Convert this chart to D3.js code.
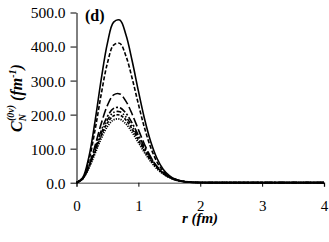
<!DOCTYPE html>
<html>
<head>
<meta charset="utf-8">
<script src="https://cdn.jsdelivr.net/npm/d3@7"></script>
<style>
  body { margin: 0; background: #fff; }
</style>
</head>
<body>
<svg id="chart"></svg>
<script>
// r values (fm)
var rValues = [0, 0.1, 0.2, 0.3, 0.4, 0.5, 0.6, 0.7, 0.8, 0.9, 1.0, 1.1, 1.2, 1.3, 1.4, 1.5, 1.6, 1.7, 1.8, 1.9, 2.0, 2.5, 3.0, 3.5, 4.0];

// one series per line style
var solid = [0, 14.6, 75.8, 181.0, 304.0, 410.1, 471.8, 477.7, 433.7, 357.5, 269.6, 187.3, 120.4, 71.8, 39.8, 20.6, 9.9, 4.5, 1.9, 0.8, 0.5, 0.3, 0.2, 0.1, 0.1];
var dashed = [0, 12.5, 65.0, 155.1, 260.4, 351.4, 404.3, 409.3, 371.6, 306.3, 231.0, 160.5, 103.1, 61.5, 34.1, 17.6, 8.5, 3.8, 1.6, 0.6, 0.4, 0.3, 0.2, 0.1, 0.1];
var longDash = [0, 11.3, 49.8, 108.9, 173.7, 227.4, 258.0, 260.9, 239.1, 201.0, 155.9, 112.3, 75.5, 47.4, 27.9, 15.4, 8.0, 3.9, 1.8, 0.8, 0.4, 0.3, 0.2, 0.1, 0.1];
var dashDot = [0, 13.5, 50.5, 101.4, 153.5, 195.1, 218.2, 220.4, 204.0, 174.8, 139.5, 104.2, 73.2, 48.4, 30.2, 17.8, 9.9, 5.3, 2.6, 1.3, 0.6, 0.3, 0.2, 0.1, 0.1];
var dashDotDot = [0, 12.8, 47.8, 95.9, 145.2, 184.5, 206.5, 208.5, 193.0, 165.3, 131.9, 98.6, 69.2, 45.8, 28.6, 16.8, 9.4, 5.0, 2.5, 1.2, 0.5, 0.3, 0.2, 0.1, 0.1];
var shortDash = [0, 12.2, 45.5, 91.4, 138.3, 175.8, 196.6, 198.6, 183.8, 157.5, 125.7, 93.9, 65.9, 43.6, 27.2, 16.0, 9.0, 4.7, 2.4, 1.1, 0.5, 0.3, 0.2, 0.1, 0.1];
var dotted = [0, 11.5, 42.8, 85.9, 130.0, 165.2, 184.8, 186.6, 172.8, 148.0, 118.1, 88.3, 62.0, 41.0, 25.6, 15.1, 8.4, 4.5, 2.2, 1.1, 0.5, 0.3, 0.2, 0.1, 0.1];

var xTicks = [0, 1, 2, 3, 4];
var yTicks = [0, 100, 200, 300, 400, 500];

var series = [
    { values: solid, dash: null, width: 1.6 },
    { values: dashed, dash: "4,2", width: 1.6 },
    { values: longDash, dash: "9,3", width: 1.6 },
    { values: dashDot, dash: "7,2,2,2", width: 1.6 },
    { values: dashDotDot, dash: "5,2,1.5,2,1.5,2", width: 1.6 },
    { values: shortDash, dash: "3,1.5", width: 1.6 },
    { values: dotted, dash: "1.2,1.2", width: 1.8 }
];

var svgWidth = 329;
var svgHeight = 242;
var plotLeft = 76.5, plotRight = 324, plotTop = 12.5, plotBottom = 182.7;

var svg = d3.select("#chart")
    .attr("width", svgWidth)
    .attr("height", svgHeight);

var x = d3.scaleLinear().domain([0, 4]).range([plotLeft, plotRight]);
var y = d3.scaleLinear().domain([0, 500]).range([plotBottom, plotTop]);

var line = d3.line()
    .x(function(d, i) { return x(rValues[i]); })
    .y(function(d) { return y(d); })
    .curve(d3.curveCatmullRom);

// x axis (grey line, curve tails drawn on top of it)
var xAxis = svg.append("g")
    .attr("transform", "translate(0," + plotBottom + ")")
    .call(d3.axisBottom(x).tickValues(xTicks).tickSize(4).tickFormat(d3.format("d")));
xAxis.attr("font-family", null).attr("font-size", null);
xAxis.select(".domain").attr("stroke", "#808080").attr("stroke-width", 1.5);
xAxis.selectAll(".tick line").attr("stroke", "#000");
xAxis.selectAll("text")
    .attr("dy", "0")
    .attr("y", 28)
    .attr("font-size", 15)
    .attr("fill", "#000");

series.forEach(function(s) {
    svg.append("path")
        .datum(s.values)
        .attr("d", line)
        .attr("fill", "none")
        .attr("stroke", "#000")
        .attr("stroke-width", s.width)
        .attr("stroke-dasharray", s.dash);
});

// y axis
var yAxis = svg.append("g")
    .attr("transform", "translate(" + plotLeft + ",0)")
    .call(d3.axisLeft(y).tickValues(yTicks).tickSize(6).tickSizeOuter(0).tickFormat(d3.format(".1f")));
yAxis.attr("font-family", null).attr("font-size", null);
yAxis.select(".domain").attr("stroke", "#000");
yAxis.selectAll("text")
    .attr("x", -11)
    .attr("dy", "0.35em")
    .attr("font-size", 15.5)
    .attr("fill", "#000");

// panel label
svg.append("text")
    .attr("x", 85)
    .attr("y", 21)
    .attr("font-size", 16)
    .attr("font-weight", "bold")
    .text("(d)");

// x title
svg.append("text")
    .attr("x", 200)
    .attr("y", 223)
    .attr("text-anchor", "middle")
    .attr("font-size", 15)
    .attr("font-weight", "bold")
    .attr("font-style", "italic")
    .text("r (fm)");

// y title
var yt = svg.append("text")
    .attr("transform", "translate(22,98) rotate(-90)")
    .attr("text-anchor", "middle")
    .attr("font-size", 16)
    .attr("font-weight", "bold")
    .attr("font-style", "italic");
yt.append("tspan").text("C");
yt.append("tspan").attr("dy", 4).attr("font-size", 10).text("N");
yt.append("tspan").attr("dx", -7).attr("dy", -12).attr("font-size", 10).text("(0\u03BD)");
yt.append("tspan").attr("dy", 8).text(" (fm");
yt.append("tspan").attr("dy", -6).attr("font-size", 10).text("-1");
yt.append("tspan").attr("dy", 6).text(")");

// serif everywhere
svg.selectAll("text").attr("font-family", "Liberation Serif");
</script>
</body>
</html>
